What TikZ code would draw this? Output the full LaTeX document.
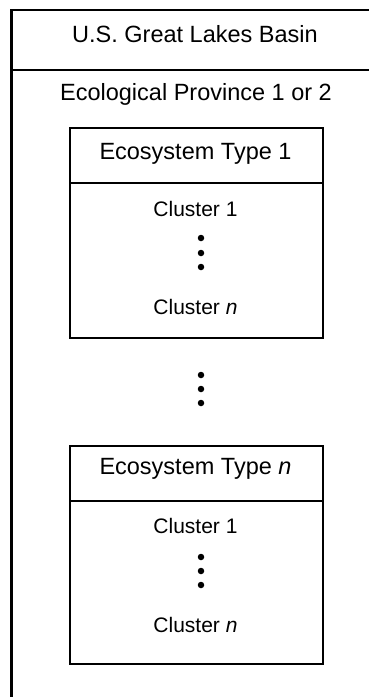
\documentclass[tikz,border=0pt]{standalone}
\usepackage{fontspec}
\setmainfont{Liberation Sans}
\begin{document}
\begin{tikzpicture}[x=1pt,y=-1pt,
  outerline/.style={line width=2.6pt},
  boxline/.style={line width=1.6pt},
  headtxt/.style={font=\fontsize{23.5}{26}\selectfont, inner sep=0pt},
  clustxt/.style={font=\fontsize{21}{24}\selectfont, inner sep=0pt},
  vdot/.style={circle, fill=black, inner sep=0pt, minimum size=6.5pt}]
\useasboundingbox (0,0) rectangle (369,697);
\clip (0,0) rectangle (369,697);
% outer frame
\draw[outerline] (11.5,720) -- (11.5,10) -- (400,10);
\draw[outerline] (11.5,70) -- (400,70);
\node[headtxt] (basin) at (195,34.5) {U.S. Great Lakes Basin};
\node[headtxt] (prov) at (196,94) {Ecological Province 1 or 2};
% ecosystem type 1
\node[draw, boxline, minimum width=253pt, minimum height=210pt, anchor=north west, inner sep=0pt] (box1) at (69,127) {};
\draw[boxline] (box1.west |- 0,183) -- (box1.east |- 0,183);
\node[headtxt] (et1) at (195.5,153.5) {Ecosystem Type 1};
\node[clustxt] (c11) at (195.5,209) {Cluster 1};
\node[vdot] (d11) at (201,238) {};
\node[vdot] (d12) at (201,253) {};
\node[vdot] (d13) at (201,267) {};
\node[clustxt] (c1n) at (195.5,307) {Cluster \textit{n}};
% middle dots
\node[vdot] (m1) at (201,375) {};
\node[vdot] (m2) at (201,389) {};
\node[vdot] (m3) at (201,403) {};
% ecosystem type n
\node[draw, boxline, minimum width=253pt, minimum height=218pt, anchor=north west, inner sep=0pt] (box2) at (69,445) {};
\draw[boxline] (box2.west |- 0,501) -- (box2.east |- 0,501);
\node[headtxt] (etn) at (195.5,469) {Ecosystem Type \textit{n}};
\node[clustxt] (cn1) at (195.5,526) {Cluster 1};
\node[vdot] (e1) at (201,557) {};
\node[vdot] (e2) at (201,571) {};
\node[vdot] (e3) at (201,585) {};
\node[clustxt] (cnn) at (195.5,625) {Cluster \textit{n}};
\end{tikzpicture}
\end{document}
